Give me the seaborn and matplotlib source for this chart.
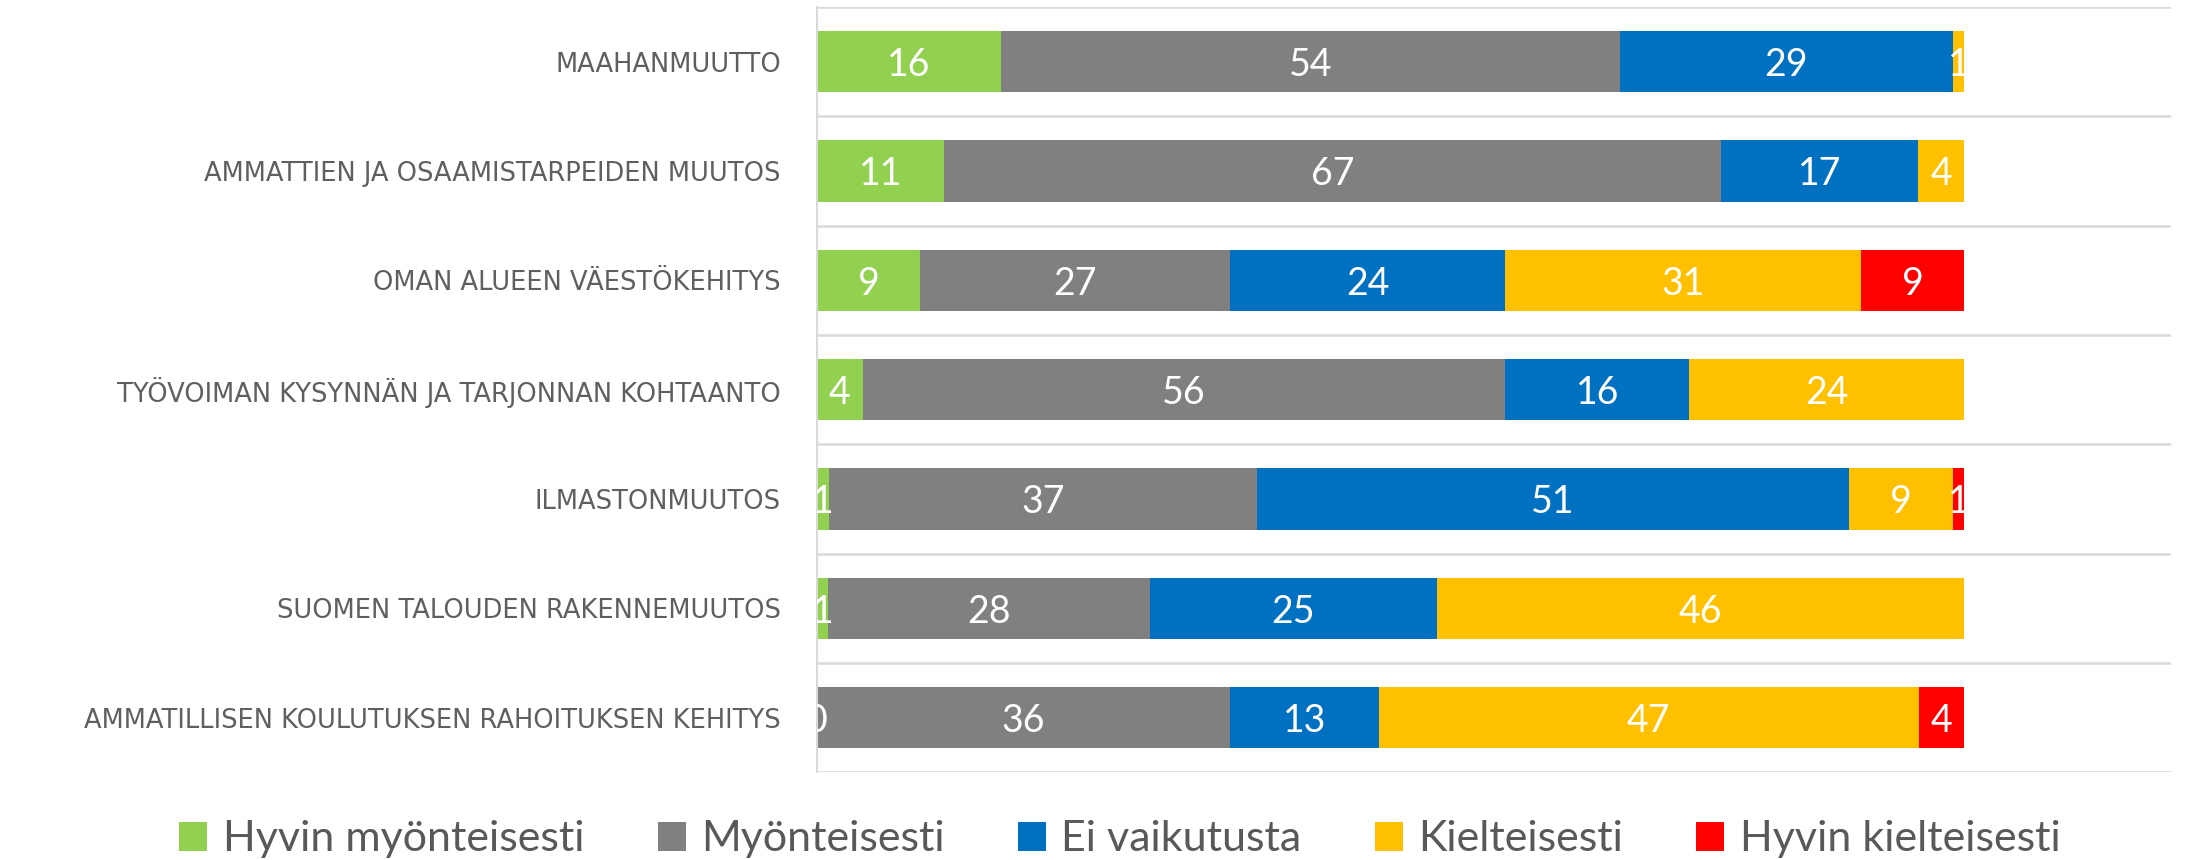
import numpy as np
import pandas as pd
import matplotlib
matplotlib.use("Agg")
import matplotlib.pyplot as plt
from matplotlib.patches import Patch
import seaborn as sns

kategoriat = [
    "MAAHANMUUTTO",
    "AMMATTIEN JA OSAAMISTARPEIDEN MUUTOS",
    "OMAN ALUEEN VÄESTÖKEHITYS",
    "TYÖVOIMAN KYSYNNÄN JA TARJONNAN KOHTAANTO",
    "ILMASTONMUUTOS",
    "SUOMEN TALOUDEN RAKENNEMUUTOS",
    "AMMATILLISEN KOULUTUKSEN RAHOITUKSEN KEHITYS",
]
hyvin_myonteisesti = [16, 11, 9, 4, 1, 1, 0]
myonteisesti = [54, 67, 27, 56, 37, 28, 36]
ei_vaikutusta = [29, 17, 24, 16, 51, 25, 13]
kielteisesti = [1, 4, 31, 24, 9, 46, 47]
hyvin_kielteisesti = [np.nan, np.nan, 9, np.nan, 1, np.nan, 4]

sarjat = ["Hyvin myönteisesti", "Myönteisesti", "Ei vaikutusta",
          "Kielteisesti", "Hyvin kielteisesti"]
varit = ["#92D050", "#808080", "#0070C0", "#FFC000", "#FF0000"]

df = pd.DataFrame({
    "Hyvin myönteisesti": hyvin_myonteisesti,
    "Myönteisesti": myonteisesti,
    "Ei vaikutusta": ei_vaikutusta,
    "Kielteisesti": kielteisesti,
    "Hyvin kielteisesti": hyvin_kielteisesti,
}, index=kategoriat)

# 100 % pinottu: skaalataan rivit summaan 100
osuus = df.div(df.sum(axis=1), axis=0) * 100
kum = osuus.fillna(0).cumsum(axis=1)
kum = kum.where(df.notna())

sns.set_theme(style="white")
plt.rcParams["font.family"] = ["Lato", "DejaVu Sans"]

fig, ax = plt.subplots(figsize=(21.96, 8.6), dpi=100)
fig.subplots_adjust(left=0.372, right=0.9886, top=0.992, bottom=0.102)

# piirretään kumulatiiviset palkit takaperin päällekkäin
for sarja, vari in reversed(list(zip(sarjat, varit))):
    sns.barplot(x=kum[sarja].values, y=kategoriat, order=kategoriat,
                color=vari, saturation=1, width=0.56, orient="h",
                linewidth=0, ax=ax)

for i, kat in enumerate(kategoriat):
    for sarja in sarjat:
        arvo = df.loc[kat, sarja]
        if pd.isna(arvo):
            continue
        keski = kum.loc[kat, sarja] - osuus.loc[kat, sarja] / 2
        ax.text(keski, i, f"{int(arvo)}", ha="center", va="center_baseline",
                color="white", fontsize=27, clip_on=True)

ax.set_xlim(0, 118)
ax.set_ylim(6.5, -0.5)
ax.set_xticks([])
ax.set_xlabel("")
ax.set_ylabel("")
ax.set_yticks(range(len(kategoriat)), labels=kategoriat,
              fontfamily=["DejaVu Sans"], fontsize=18.5, color="#5f5f5f")
ax.set_yticks(np.arange(-0.5, 7, 1), minor=True)
ax.grid(which="minor", axis="y", color="#D9D9D9", linewidth=1.8)
ax.tick_params(axis="y", which="both", length=0, pad=26)
for s in ["top", "right", "bottom"]:
    ax.spines[s].set_visible(False)
ax.spines["left"].set_color("#D9D9D9")
ax.spines["left"].set_linewidth(1.5)

kahvat = [Patch(facecolor=v, edgecolor="none", label=s) for s, v in zip(sarjat, varit)]
fig.legend(handles=kahvat, loc="center", bbox_to_anchor=(0.51, 0.024), ncol=5,
           frameon=False, fontsize=31, labelcolor="#595959",
           handlelength=0.65, handleheight=0.65, handletextpad=0.36,
           columnspacing=1.7)

fig.savefig("out.png", dpi=100)
